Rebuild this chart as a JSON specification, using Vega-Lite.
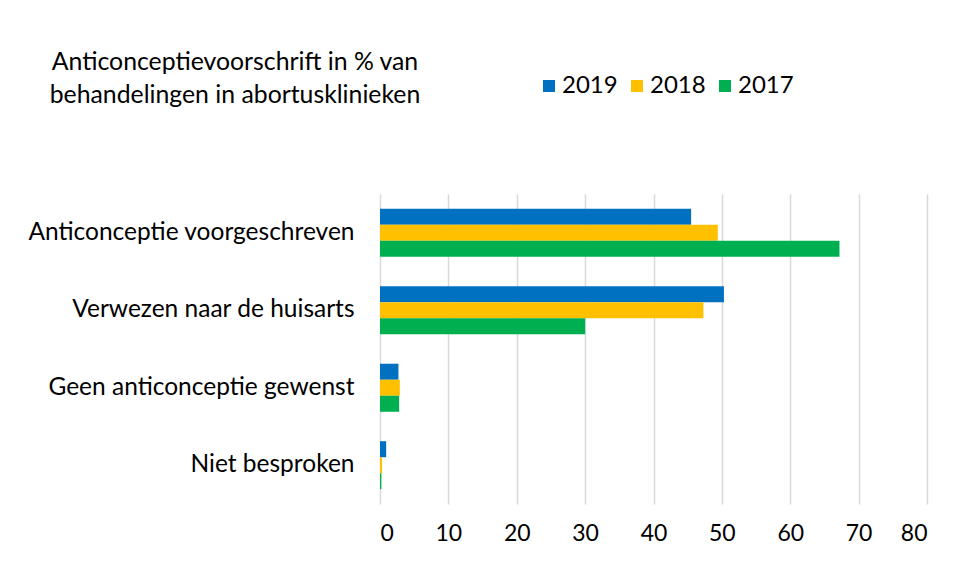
{
  "$schema": "https://vega.github.io/schema/vega-lite/v6.json",
  "width": 547,
  "height": 310,
  "autosize": {"type": "none"},
  "padding": {"left": 380, "top": 194, "right": 28, "bottom": 57},
  "background": "white",
  "title": {
    "text": ["Anticonceptievoorschrift in % van", "behandelingen in abortusklinieken"],
    "anchor": "start",
    "frame": "group",
    "align": "center",
    "dx": -145,
    "dy": 121,
    "offset": 87,
    "font": "Lato",
    "fontSize": 24.8,
    "fontWeight": "normal",
    "color": "#000000",
    "lineHeight": 33
  },
  "data": {
    "values": [
      {"cat": "Anticonceptie voorgeschreven", "year": "2019", "value": 45.5},
      {"cat": "Anticonceptie voorgeschreven", "year": "2018", "value": 49.4},
      {"cat": "Anticonceptie voorgeschreven", "year": "2017", "value": 67.2},
      {"cat": "Verwezen naar de huisarts", "year": "2019", "value": 50.3},
      {"cat": "Verwezen naar de huisarts", "year": "2018", "value": 47.3},
      {"cat": "Verwezen naar de huisarts", "year": "2017", "value": 30.0},
      {"cat": "Geen anticonceptie gewenst", "year": "2019", "value": 2.7},
      {"cat": "Geen anticonceptie gewenst", "year": "2018", "value": 2.9},
      {"cat": "Geen anticonceptie gewenst", "year": "2017", "value": 2.8},
      {"cat": "Niet besproken", "year": "2019", "value": 0.9},
      {"cat": "Niet besproken", "year": "2018", "value": 0.3},
      {"cat": "Niet besproken", "year": "2017", "value": 0.2}
    ]
  },
  "mark": {"type": "bar"},
  "encoding": {
    "y": {
      "field": "cat",
      "type": "nominal",
      "sort": ["Anticonceptie voorgeschreven", "Verwezen naar de huisarts", "Geen anticonceptie gewenst", "Niet besproken"],
      "scale": {"paddingInner": 0.38, "paddingOuter": 0.19},
      "axis": {
        "title": null,
        "domain": false,
        "ticks": false,
        "labelFont": "Lato",
        "labelFontSize": 24.5,
        "labelColor": "#000000",
        "labelPadding": 26,
        "labelLimit": 400
      }
    },
    "yOffset": {
      "field": "year",
      "type": "nominal",
      "sort": ["2019", "2018", "2017"]
    },
    "x": {
      "field": "value",
      "type": "quantitative",
      "scale": {"domain": [0, 80], "nice": false},
      "axis": {
        "title": null,
        "values": [0, 10, 20, 30, 40, 50, 60, 70, 80],
        "domain": false,
        "ticks": false,
        "grid": true,
        "gridColor": "#d9d9d9",
        "gridWidth": 1.5,
        "labelFont": "Lato",
        "labelFontSize": 23,
        "labelColor": "#000000",
        "labelPadding": 18
      }
    },
    "color": {
      "field": "year",
      "type": "nominal",
      "sort": ["2019", "2018", "2017"],
      "scale": {"domain": ["2019", "2018", "2017"], "range": ["#0070C0", "#FFC000", "#00B050"]},
      "legend": {
        "title": null,
        "orient": "none",
        "direction": "horizontal",
        "legendX": 157,
        "legendY": -120,
        "symbolType": "square",
        "symbolSize": 144,
        "symbolStrokeWidth": 0,
        "symbolOpacity": 1,
        "labelFont": "Lato",
        "labelFontSize": 24,
        "labelColor": "#000000",
        "labelOffset": 1,
        "columnPadding": 7
      }
    }
  },
  "config": {"view": {"stroke": null}}
}
